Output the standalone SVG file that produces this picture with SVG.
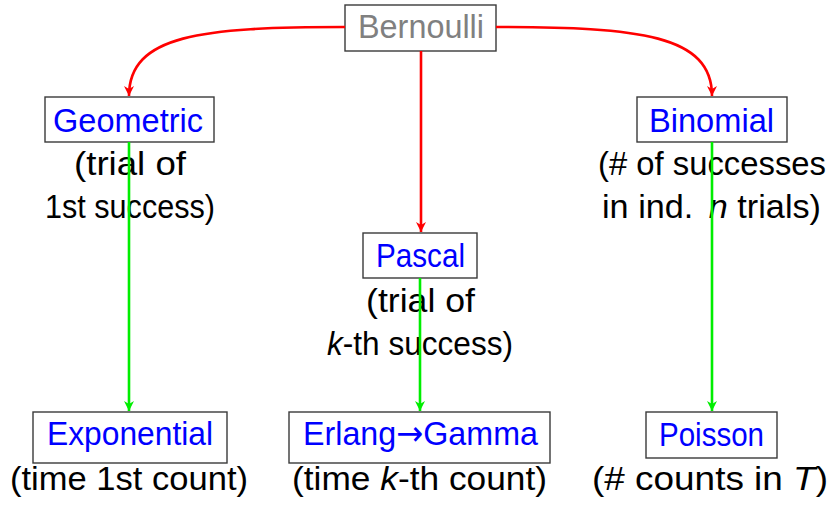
<svg xmlns="http://www.w3.org/2000/svg" width="833" height="506" viewBox="0 0 833 506">
<style>
text{font-family:"Liberation Sans","DejaVu Sans",sans-serif;font-size:34px;text-anchor:middle}
.box{fill:#fff;stroke:#3a3a3a;stroke-width:1.4}
.lbl{fill:#0000ff}
.gray{fill:#808080}
.sub{fill:#000}
.it{font-style:italic}
.arw{font-family:"DejaVu Sans",sans-serif}
.red{fill:none;stroke:#ff0000;stroke-width:2.6}
.green{fill:none;stroke:#00ee00;stroke-width:2.6}
</style>
<defs>
<marker id="ar" markerUnits="userSpaceOnUse" markerWidth="12" markerHeight="12" refX="10" refY="5" orient="auto">
<path d="M0,0 L10,5 L0,10 L3,5 z" fill="#ff0000"/>
</marker>
<marker id="ag" markerUnits="userSpaceOnUse" markerWidth="12" markerHeight="12" refX="10" refY="5" orient="auto">
<path d="M0,0 L10,5 L0,10 L3,5 z" fill="#00ee00"/>
</marker>
</defs>
<rect width="833" height="506" fill="#fff"/>
<g id="nodes">
<g id="bernoulli">
<rect class="box" x="345" y="5" width="151" height="46"/>
<text class="gray" x="421" y="38" textLength="126" lengthAdjust="spacingAndGlyphs">Bernoulli</text>
</g>
<g id="geometric">
<rect class="box" x="45" y="97" width="169" height="45"/>
<text class="lbl" x="128" y="132" textLength="150" lengthAdjust="spacingAndGlyphs">Geometric</text>
<text class="sub" x="130" y="175" textLength="112" lengthAdjust="spacingAndGlyphs">(trial of</text>
<text class="sub" x="130" y="218" textLength="170" lengthAdjust="spacingAndGlyphs">1st success)</text>
</g>
<g id="binomial">
<rect class="box" x="637" y="97" width="150" height="45"/>
<text class="lbl" x="711.5" y="132" textLength="125" lengthAdjust="spacingAndGlyphs">Binomial</text>
<text class="sub" x="712" y="175" textLength="228" lengthAdjust="spacingAndGlyphs">(# of successes</text>
<text class="sub" x="711.5" y="218" textLength="219" lengthAdjust="spacingAndGlyphs">in ind. <tspan class="it" dx="6">n</tspan> trials)</text>
</g>
<g id="pascal">
<rect class="box" x="363" y="233" width="114" height="45"/>
<text class="lbl" x="420.5" y="267" textLength="89" lengthAdjust="spacingAndGlyphs">Pascal</text>
<text class="sub" x="420.5" y="312" textLength="109" lengthAdjust="spacingAndGlyphs">(trial of</text>
<text class="sub" x="420" y="355" textLength="186" lengthAdjust="spacingAndGlyphs"><tspan class="it">k</tspan>-th success)</text>
</g>
<g id="exponential">
<rect class="box" x="33" y="412" width="194" height="51"/>
<text class="lbl" x="130" y="445" textLength="166" lengthAdjust="spacingAndGlyphs">Exponential</text>
<text class="sub" x="129" y="490" textLength="238" lengthAdjust="spacingAndGlyphs">(time 1st count)</text>
</g>
<g id="erlang">
<rect class="box" x="289" y="412" width="261" height="51"/>
<text class="lbl" x="420.5" y="445" textLength="235" lengthAdjust="spacingAndGlyphs">Erlang<tspan class="arw">→</tspan>Gamma</text>
<text class="sub" x="419.5" y="490" textLength="255" lengthAdjust="spacingAndGlyphs">(time <tspan class="it">k</tspan>-th count)</text>
</g>
<g id="poisson">
<rect class="box" x="646" y="412" width="131" height="46"/>
<text class="lbl" x="711.5" y="446" textLength="105" lengthAdjust="spacingAndGlyphs">Poisson</text>
<text class="sub" x="710" y="490" textLength="236" lengthAdjust="spacingAndGlyphs">(# counts in <tspan class="it">T</tspan>)</text>
</g>
</g>
<g id="connectors">
<path class="red" d="M345,27 C201,27 129,35 129,96" marker-end="url(#ar)"/>
<path class="red" d="M496,27 C640,27 712,35 712,96" marker-end="url(#ar)"/>
<path class="red" d="M421,51 L421,232" marker-end="url(#ar)"/>
<path class="green" d="M129,142 L129,411" marker-end="url(#ag)"/>
<path class="green" d="M420,278 L420,411" marker-end="url(#ag)"/>
<path class="green" d="M712,142 L712,411" marker-end="url(#ag)"/>
</g>
</svg>
